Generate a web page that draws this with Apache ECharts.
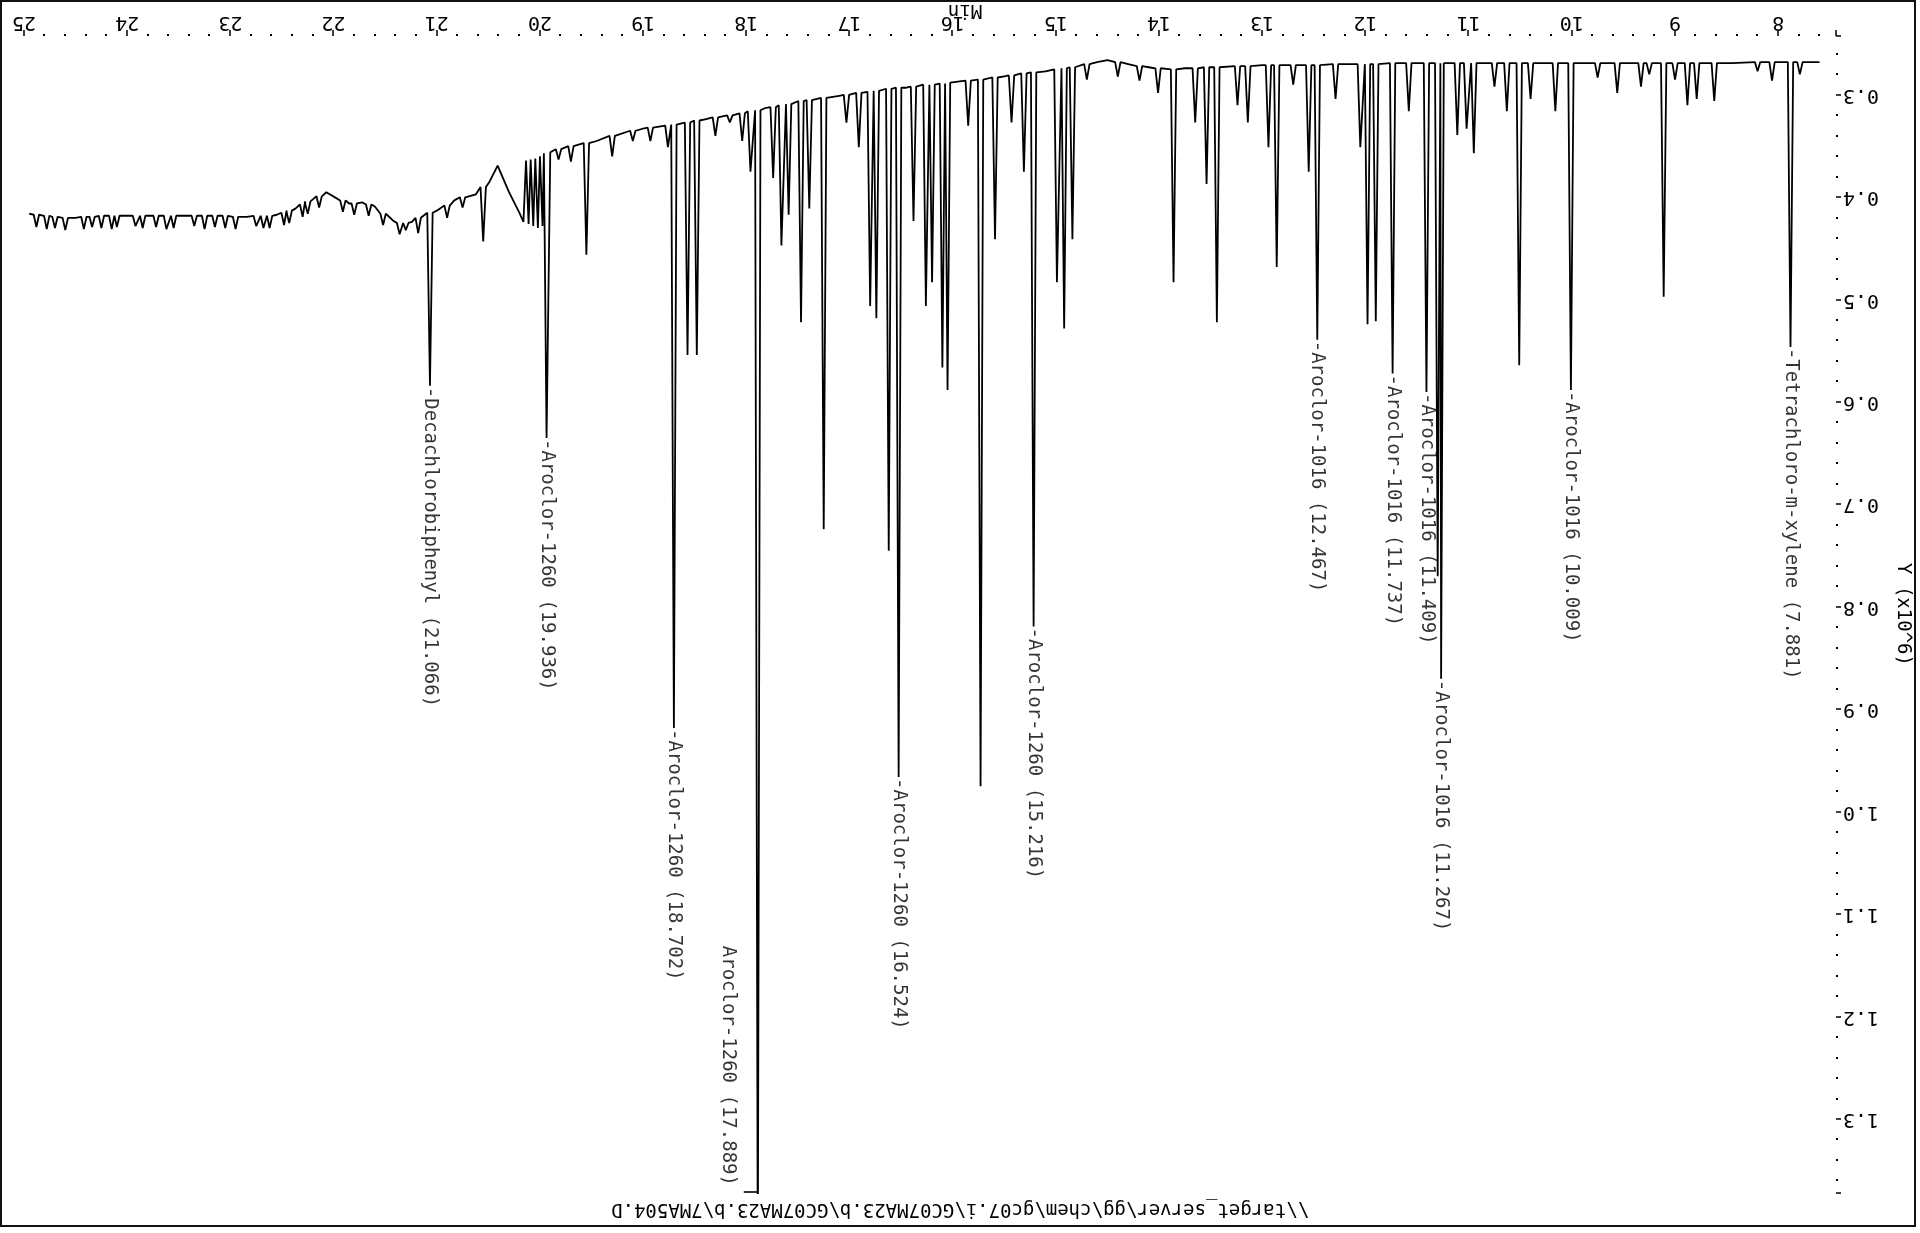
<!DOCTYPE html>
<html>
<head>
<meta charset="utf-8">
<script src="https://cdn.jsdelivr.net/npm/echarts@6/dist/echarts.min.js"></script>
<style>
  html, body { margin: 0; padding: 0; background: #fff; overflow: hidden; }
  #page { position: absolute; left: 0; top: 0; width: 1920px; height: 1233px; transform: rotate(180deg); transform-origin: 50% 50%; }
  #frame { position: absolute; left: 4px; top: 6px; width: 1916px; height: 1227px; box-sizing: border-box; border: 2px solid #111; }
  #chart { position: absolute; left: 0; top: 0; width: 1920px; height: 1233px; }
</style>
</head>
<body>
<div id="page"><div id="frame"></div><div id="chart"></div></div>
<script>
// Data file and axis limits
const dataFile = '\\\\target_server\\gg\\chem\\gc07.i\\GC07MA23.b\\GC07MA23.b\\7MA504.D';
const X_MIN = 7.44, X_MAX = 25;
const Y_MIN = 0.2425, Y_MAX = 1.372;

// Signal level between peaks (minutes, response x10^6)
const baseTrace = [
  [7.60, 0.268], [8.45, 0.269], [9.90, 0.269], [11.50, 0.269], [12.20, 0.270], [13.00, 0.271],
  [13.75, 0.274], [14.10, 0.273], [14.30, 0.270], [14.50, 0.266], [14.60, 0.268], [15.10, 0.277],
  [15.50, 0.282], [15.95, 0.287], [16.45, 0.293], [17.10, 0.301], [17.82, 0.313], [18.40, 0.324],
  [19.00, 0.333], [19.45, 0.345], [19.90, 0.356],
  [19.975, 0.428], [20.00, 0.360], [20.02, 0.430], [20.045, 0.362], [20.065, 0.428], [20.09, 0.363],
  [20.11, 0.426], [20.135, 0.364], [20.16, 0.424], [20.20, 0.415], [20.30, 0.395], [20.41, 0.369],
  [20.49, 0.385], [20.62, 0.397], [20.83, 0.403], [21.00, 0.413], [21.24, 0.424], [21.42, 0.423],
  [21.60, 0.409], [21.72, 0.405], [21.85, 0.406], [21.97, 0.401], [22.07, 0.395], [22.19, 0.401],
  [22.37, 0.411], [22.55, 0.417], [22.84, 0.419], [23.44, 0.418], [24.03, 0.418], [24.50, 0.420],
  [24.95, 0.416]
];

// Peaks: retention time (min), apex and foot level (x10^6)
const peakTimes = [
  7.79, 7.881, 8.06, 8.20, 8.62, 8.79, 8.88, 9.00, 9.11, 9.25, 9.33, 9.56, 9.75, 10.009, 10.16, 10.40,
  10.51, 10.63, 10.75, 10.95, 11.02, 11.11, 11.267, 11.30, 11.409, 11.58, 11.737, 11.90, 11.98, 12.05,
  12.29, 12.467, 12.55, 12.70, 12.86, 12.94, 13.14, 13.24, 13.44, 13.54, 13.65, 13.86, 14.01, 14.19,
  14.40, 14.70, 14.84, 14.92, 14.99, 15.216, 15.31, 15.43, 15.59, 15.73, 15.85, 16.05, 16.10, 16.20,
  16.26, 16.38, 16.524, 16.62, 16.74, 16.80, 16.91, 17.03, 17.25, 17.39, 17.47, 17.59, 17.66, 17.74,
  17.889, 17.96, 18.04, 18.16, 18.30, 18.48, 18.57, 18.702, 18.76, 18.93, 19.10, 19.30, 19.55, 19.70,
  19.82, 19.936, 20.55, 20.75, 20.90, 21.066, 21.18, 21.30, 21.36, 21.52, 21.66, 21.80, 21.91, 22.14,
  22.25, 22.30, 22.43, 22.48, 22.62, 22.68, 22.75, 22.95, 23.05, 23.15, 23.25, 23.35, 23.55, 23.62,
  23.72, 23.85, 23.92, 24.10, 24.15, 24.25, 24.34, 24.42, 24.60, 24.70, 24.78, 24.88
];
const peakApex = [
  0.280, 0.546, 0.286, 0.277, 0.306, 0.304, 0.310, 0.285, 0.497, 0.280, 0.292, 0.298, 0.283, 0.588, 0.316, 0.304,
  0.564, 0.316, 0.292, 0.357, 0.333, 0.339, 0.870, 0.770, 0.590, 0.316, 0.572, 0.521, 0.524, 0.351,
  0.304, 0.539, 0.375, 0.290, 0.468, 0.351, 0.327, 0.310, 0.522, 0.387, 0.327, 0.483, 0.298, 0.286,
  0.282, 0.285, 0.441, 0.528, 0.483, 0.819, 0.375, 0.327, 0.441, 0.975, 0.330, 0.588, 0.566, 0.483,
  0.506, 0.423, 0.966, 0.745, 0.518, 0.506, 0.351, 0.327, 0.724, 0.411, 0.522, 0.417, 0.447, 0.381,
  1.450, 0.375, 0.345, 0.327, 0.340, 0.554, 0.554, 0.918, 0.351, 0.345, 0.345, 0.360, 0.456, 0.365,
  0.363, 0.635, 0.443, 0.410, 0.420, 0.584, 0.435, 0.432, 0.436, 0.427, 0.418, 0.417, 0.414, 0.410,
  0.416, 0.419, 0.425, 0.427, 0.430, 0.430, 0.428, 0.431, 0.430, 0.429, 0.431, 0.428, 0.430, 0.431,
  0.429, 0.430, 0.428, 0.429, 0.431, 0.430, 0.429, 0.431, 0.432, 0.430, 0.431, 0.429
];
const peakBase = [
  0.268, 0.268, 0.268, 0.268, 0.269, 0.269, 0.269, 0.269, 0.269, 0.269, 0.269, 0.269, 0.269, 0.269, 0.269, 0.269,
  0.269, 0.269, 0.269, 0.269, 0.269, 0.269, 0.269, 0.269, 0.269, 0.269, 0.269, 0.270, 0.270, 0.270,
  0.270, 0.271, 0.271, 0.271, 0.271, 0.271, 0.272, 0.272, 0.273, 0.273, 0.274, 0.275, 0.274, 0.272,
  0.268, 0.270, 0.273, 0.274, 0.275, 0.278, 0.279, 0.281, 0.283, 0.285, 0.286, 0.288, 0.289, 0.290,
  0.290, 0.292, 0.293, 0.294, 0.296, 0.297, 0.298, 0.300, 0.303, 0.305, 0.306, 0.309, 0.310, 0.312,
  0.315, 0.316, 0.318, 0.320, 0.322, 0.325, 0.327, 0.329, 0.330, 0.332, 0.335, 0.340, 0.347, 0.350,
  0.353, 0.357, 0.390, 0.400, 0.408, 0.415, 0.420, 0.425, 0.425, 0.416, 0.407, 0.406, 0.403, 0.399,
  0.404, 0.407, 0.413, 0.415, 0.418, 0.418, 0.418, 0.419, 0.418, 0.418, 0.418, 0.418, 0.418, 0.418,
  0.418, 0.418, 0.418, 0.418, 0.418, 0.418, 0.419, 0.419, 0.420, 0.419, 0.418, 0.417
];

// Identified compounds
const labelTimes = [7.881, 10.009, 11.267, 11.409, 11.737, 12.467, 15.216, 16.524, 17.889, 18.702, 19.936, 21.066];
const labelNames = ['Tetrachloro-m-xylene', 'Aroclor-1016', 'Aroclor-1016', 'Aroclor-1016', 'Aroclor-1016',
  'Aroclor-1016', 'Aroclor-1260', 'Aroclor-1260', 'Aroclor-1260', 'Aroclor-1260', 'Aroclor-1260',
  'Decachlorobiphenyl'];

const PEAK_HALF_WIDTH = 0.026;
const MONO = 'DejaVu Sans Mono';

// Assemble the detector trace from the level between peaks and the peak list
const trace = [];
baseTrace.forEach(p => {
  if (!peakTimes.some(t => Math.abs(t - p[0]) < PEAK_HALF_WIDTH * 1.3)) trace.push(p);
});
peakTimes.forEach((t, i) => {
  trace.push([t - PEAK_HALF_WIDTH, peakBase[i]], [t, peakApex[i]], [t + PEAK_HALF_WIDTH, peakBase[i]]);
});
trace.sort((a, b) => a[0] - b[0]);

const labelItems = [];
const offScaleItems = [];
labelTimes.forEach((t, i) => {
  const apex = peakApex[peakTimes.indexOf(t)];
  const text = labelNames[i] + ' (' + t.toFixed(3) + ')';
  if (apex > Y_MAX) {
    offScaleItems.push({ value: [t, Y_MAX], text: text });
  } else {
    labelItems.push({ value: [t, apex], text: '-' + text });
  }
});

const chart = echarts.init(document.getElementById('chart'), null, { renderer: 'canvas' });
chart.setOption({
  animation: false,
  backgroundColor: 'transparent',
  title: {
    text: dataFile,
    left: 'center',
    top: 10,
    textStyle: { fontFamily: MONO, fontSize: 19, fontWeight: 'normal', color: '#000' }
  },
  grid: { left: 84, right: 24, top: 40, bottom: 36, outerBoundsMode: 'none' },
  xAxis: {
    type: 'value', min: X_MIN, max: X_MAX, splitNumber: 17,
    name: 'Min', nameLocation: 'middle', nameGap: 17, nameMoveOverlap: false,
    nameTextStyle: { fontFamily: MONO, fontSize: 19, color: '#000', padding: [0, 70, 0, 0] },
    axisLine: { show: false },
    axisTick: { show: true, length: 6, lineStyle: { color: '#000', width: 1.5 } },
    minorTick: { show: true, splitNumber: 5, length: 2, lineStyle: { color: '#000', width: 2 } },
    splitLine: { show: false },
    axisLabel: { showMinLabel: false, margin: 4, fontFamily: MONO, fontSize: 20, color: '#000',
      formatter: v => String(Math.round(v)) }
  },
  yAxis: {
    type: 'value', min: Y_MIN, max: Y_MAX, splitNumber: 11,
    name: 'Y (x10^6)', nameLocation: 'middle', nameGap: 57, nameRotate: 90,
    nameTextStyle: { fontFamily: MONO, fontSize: 19, color: '#000' },
    axisLine: { show: false },
    axisTick: { show: true, length: 5, lineStyle: { color: '#000', width: 1.5 } },
    minorTick: { show: true, splitNumber: 5, length: 2, lineStyle: { color: '#000', width: 2 } },
    splitLine: { show: false },
    axisLabel: { showMinLabel: false, showMaxLabel: false, margin: 7, fontFamily: MONO, fontSize: 20, color: '#000',
      formatter: v => v.toFixed(1) }
  },
  series: [
    {
      type: 'line', data: trace, showSymbol: false, symbol: 'none',
      lineStyle: { color: '#000', width: 1.8 }, clip: true, z: 2
    },
    {
      type: 'scatter', data: labelItems, symbolSize: 0, silent: true, z: 3,
      label: {
        show: true, position: 'top', distance: 1, rotate: 90, align: 'left', verticalAlign: 'middle',
        fontFamily: MONO, fontSize: 19, color: '#000',
        formatter: p => p.data.text
      }
    },
    {
      type: 'scatter', data: offScaleItems, symbol: 'rect', symbolSize: [14, 2], symbolOffset: [7, 1],
      itemStyle: { color: '#000' }, silent: true, z: 3, clip: false,
      label: {
        show: true, position: 'inside', rotate: 90, align: 'right', verticalAlign: 'middle',
        offset: [-6, 23],
        fontFamily: MONO, fontSize: 19, color: '#000',
        formatter: p => p.data.text
      }
    }
  ]
});
</script>
</body>
</html>
